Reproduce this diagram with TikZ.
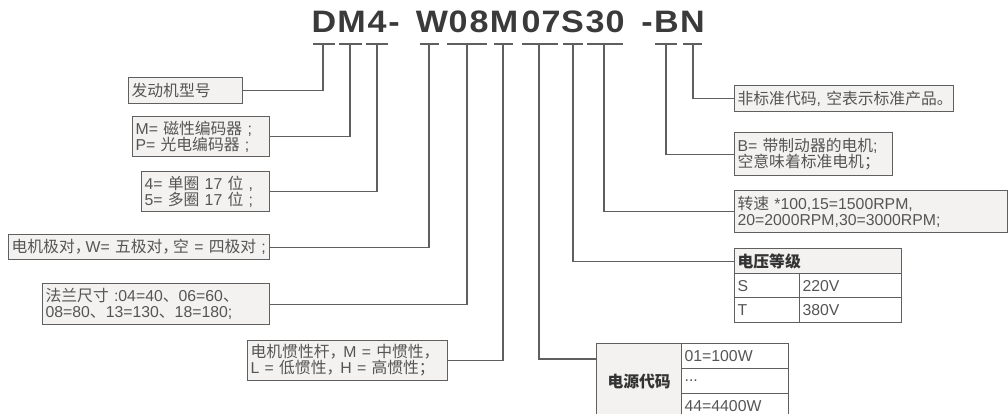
\documentclass[tikz,border=0pt]{standalone}
\usepackage{fontspec}
\setmainfont{Liberation Sans}
\newfontfamily\cjk{Noto Sans CJK SC}
\newfontfamily\titlefont[FakeStretch=1.1]{Liberation Sans}
\newcommand{\lineL}[1]{\makebox[\hsize][l]{#1}}
\newcommand{\nc}{{\cjk ，}\kern-5pt}
\newcommand{\ncw}{{\cjk ，}\kern-2pt}
\definecolor{lc}{HTML}{5F5F5F}
\definecolor{bg}{HTML}{F3F2F0}
\definecolor{tc}{HTML}{555555}
\definecolor{hc}{HTML}{333333}
\definecolor{ttc}{HTML}{3A3A3A}
\begin{document}
\begin{tikzpicture}[x=1pt,y=-1pt,
  box/.style={draw=lc, fill=bg, line width=1.2pt, anchor=north west, inner xsep=3pt, inner ysep=0pt, align=left, text=tc, font=\fontsize{15.8}{16}\selectfont},
  cell/.style={box, fill=white},
  hdr/.style={box, text=hc, font=\cjk\bfseries\fontsize{15.8}{16}\selectfont},
  ttl/.style={anchor=base, text=ttc, font=\titlefont\bfseries\fontsize{31}{31}\selectfont, inner sep=0pt},
  ul/.style={draw=lc, line width=1.1pt},
  con/.style={draw=lc, line width=1.1pt}]
\useasboundingbox (0,0) rectangle (1008,414);
\clip (0,0) rectangle (1008,414);
\fill[white] (0,0) rectangle (1008,414);
% title letters
\node[ttl] (l1) at (324,33) {D};
\node[ttl] (l2) at (351.5,33) {M};
\node[ttl] (l3) at (377,33) {4};
\node[ttl] (l4) at (394,33) {-};
\node[ttl] (l5) at (432,33) {W};
\node[ttl] (l6) at (458,33) {0};
\node[ttl] (l7) at (479,33) {8};
\node[ttl] (l8) at (504,33) {M};
\node[ttl] (l9) at (531,33) {0};
\node[ttl] (l10) at (551,33) {7};
\node[ttl] (l11) at (572.5,33) {S};
\node[ttl] (l12) at (595,33) {3};
\node[ttl] (l13) at (615,33) {0};
\node[ttl] (l14) at (647,33) {-};
\node[ttl] (l15) at (666.5,33) {B};
\node[ttl] (l16) at (692.5,33) {N};
% underlines
\draw[ul] (313,44) -- (335,44);
\draw[ul] (339,44) -- (362,44);
\draw[ul] (366,44) -- (388,44);
\draw[ul] (420,44) -- (439,44);
\draw[ul] (447,44) -- (487,44);
\draw[ul] (494,44) -- (513,44);
\draw[ul] (522,44) -- (558,44);
\draw[ul] (563,44) -- (583,44);
\draw[ul] (587,44) -- (623,44);
\draw[ul] (655,44) -- (677,44);
\draw[ul] (683,44) -- (702,44);
\coordinate (u1) at (323,44);
\coordinate (u2) at (350,44);
\coordinate (u3) at (377,44);
\coordinate (u4) at (429,44);
\coordinate (u5) at (467,44);
\coordinate (u6) at (503,44);
\coordinate (u7) at (539,44);
\coordinate (u8) at (573,44);
\coordinate (u9) at (604,44);
\coordinate (u10) at (666,44);
\coordinate (u11) at (693,44);
% left boxes
\node[box, text width=108pt, minimum height=26pt] (b1) at (128,77) {\lineL{{\cjk 发动机型号}}};
\node[box, text width=131pt, minimum height=40pt] (b2) at (132,116) {\lineL{M= {\cjk 磁性编码器} ;}\\\lineL{P= {\cjk 光电编码器} ;}};
\node[box, text width=122pt, minimum height=40pt] (b3) at (141,171) {\lineL{4= {\cjk 单圈} 17 {\cjk 位} ,}\\\lineL{5= {\cjk 多圈} 17 {\cjk 位} ;}};
\node[box, text width=255pt, minimum height=25pt] (b4) at (8,234) {\lineL{{\cjk 电机极对}\nc W= {\cjk 五极对}\nc{\cjk 空} = {\cjk 四极对} ;}};
\node[box, text width=221pt, minimum height=41pt] (b5) at (42,283) {\lineL{{\cjk 法兰尺寸} :04=40{\cjk 、}06=60{\cjk 、}}\\\lineL{08=80{\cjk 、}13=130{\cjk 、}18=180;}};
\node[box, text width=194pt, minimum height=40pt] (b6) at (247,340) {\lineL{{\cjk 电机惯性杆}\ncw M = {\cjk 中惯性，}}\\\lineL{L = {\cjk 低惯性}\ncw H = {\cjk 高惯性；}}};
% right boxes
\node[box, text width=213pt, minimum height=26pt] (bn) at (734,85) {\lineL{{\cjk 非标准代码}, {\cjk 空表示标准产品。}}};
\node[box, text width=152pt, minimum height=43pt] (bb) at (734,132) {\lineL{B= {\cjk 带制动器的电机};}\\\lineL{{\cjk 空意味着标准电机；}}};
\node[box, text width=267pt, minimum height=42pt] (bs) at (734,190) {\lineL{{\cjk 转速} *100,15=1500RPM,}\\\lineL{20=2000RPM,30=3000RPM;}};
% voltage table
\node[hdr, text width=161pt, minimum height=25pt] (vh) at (734,248) {电压等级};
\node[cell, text width=59pt, minimum height=24pt] (vs) at (734,273) {S};
\node[cell, text width=96pt, minimum height=24pt] (vsv) at (799,273) {220V};
\node[cell, text width=59pt, minimum height=25pt] (vt) at (734,297) {T};
\node[cell, text width=96pt, minimum height=25pt] (vtv) at (799,297) {380V};
% power table
\node[hdr, align=center, text width=79pt, minimum height=75pt] (pl) at (596,343) {电源代码};
\node[cell, text width=101pt, minimum height=25pt] (p1) at (681,343) {01=100W};
\node[cell, text width=101pt, minimum height=25pt] (p2) at (681,368) {...};
\node[cell, text width=101pt, minimum height=25pt] (p3) at (681,393) {44=4400W};
\coordinate (pc) at (596,359);
% connectors
\draw[con] (b1.east) -| (u1);
\draw[con] (b2.east) -| (u2);
\draw[con] (b3.east) -| (u3);
\draw[con] (b4.east) -| (u4);
\draw[con] (b5.east) -| (u5);
\draw[con] (b6.east) -| (u6);
\draw[con] (pc) -| (u7);
\draw[con] (vh.west) -| (u8);
\draw[con] (bs.west) -| (u9);
\draw[con] (bb.west) -| (u10);
\draw[con] (bn.west) -| (u11);
\end{tikzpicture}
\end{document}
